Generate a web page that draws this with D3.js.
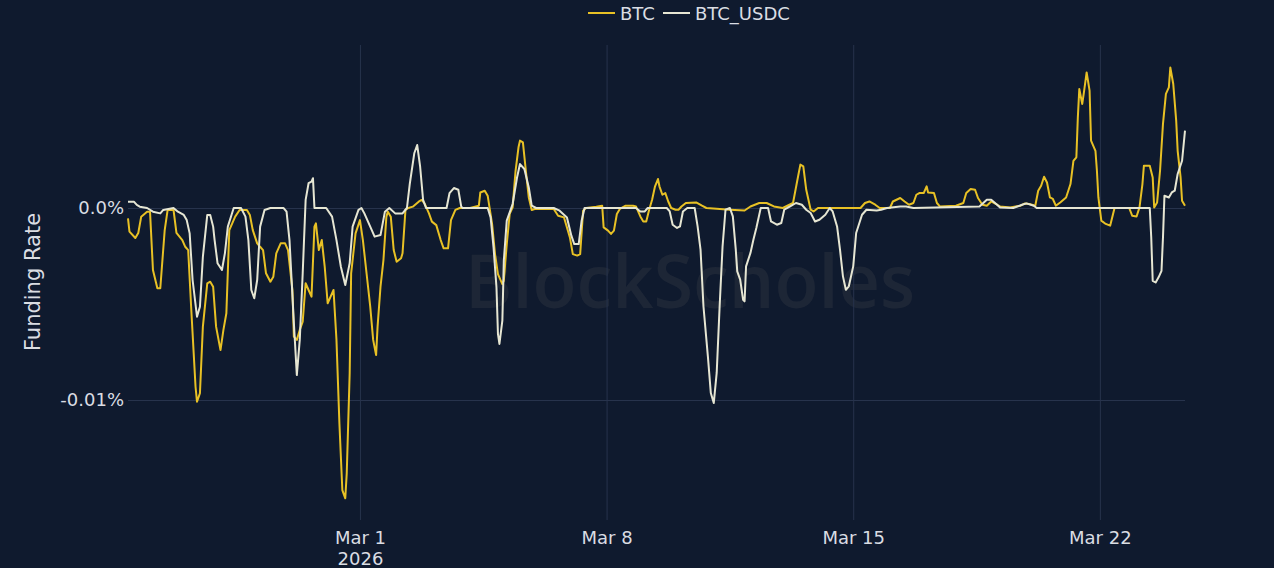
<!DOCTYPE html>
<html><head><meta charset="utf-8">
<script src="https://cdn.jsdelivr.net/npm/d3@7"></script>
<style>html,body{margin:0;padding:0;background:#0f1a2e;overflow:hidden}svg{display:block}</style>
</head><body><svg id="c" width="1274" height="568"></svg>
<script>
// ---- data (hours are offsets from 2026-03-01 00:00 UTC; values are funding rate in %) ----
const seriesNames = ["BTC", "BTC_USDC"];
const seriesColors = ["#e8c125", "#e6e6d3"];

const btcHours = [-158,-157,-153,-151,-149,-145,-143,-141,-138,-136,-133,-131,-127,-125,-121,-119,-117,-115,-112,-111,-109,-107,-104,-102,-100,-98,-95,-93,-91,-89,-85,-82,-77,-75,-73,-70,-68,-66,-64,-61,-59,-57,-54,-51,-49,-46,-45,-43,-41,-39,-37,-35,-33,-31,-30,-28,-26,-24,-22,-20,-18,-16,-14,-12,-10,-9,-7,-6,-3,0,2,5,7,9,11,12,14,16,18,19,21,23,25,28,29,31,33,36,40,42,44,47,49,52,55,57,60,62,65,68,75,81,82,85,87,90,92,94,97,98,100,102,104,106,108,109,111,113,115,117,119,127,132,135,139,143,145,148,150,152,154,161,165,166,169,171,173,175,177,181,186,188,191,193,195,197,199,201,203,204,206,208,210,212,215,217,219,222,229,233,236,252,262,266,272,277,282,288,295,298,300,302,304,307,309,312,341,344,347,351,354,361,363,368,371,374,377,379,381,384,386,387,391,393,395,406,411,413,416,419,421,424,427,430,434,436,443,450,453,456,460,462,464,466,468,470,472,474,477,481,484,486,488,489,490,492,493,495,497,498,501,502,503,505,508,511,513,514,524,526,529,531,533,534,538,540,541,543,545,547,549,551,552,554,556,557,559,560,562];
const btcValues = [-0.00054,-0.00123,-0.00156,-0.00130,-0.00045,-0.00019,-0.00019,-0.00323,-0.00418,-0.00418,-0.00115,-0.00010,-0.00010,-0.00130,-0.00167,-0.00202,-0.00219,-0.00514,-0.00931,-0.01009,-0.00965,-0.00618,-0.00392,-0.00384,-0.00410,-0.00618,-0.00740,-0.00635,-0.00548,-0.00115,-0.00045,-0.00010,-0.00010,-0.00036,-0.00115,-0.00184,-0.00202,-0.00219,-0.00340,-0.00384,-0.00358,-0.00236,-0.00184,-0.00184,-0.00219,-0.00427,-0.00670,-0.00687,-0.00635,-0.00592,-0.00392,-0.00427,-0.00462,-0.00097,-0.00080,-0.00219,-0.00167,-0.00306,-0.00496,-0.00462,-0.00427,-0.00687,-0.01121,-0.01469,-0.01512,-0.01382,-0.00861,-0.00340,-0.00132,-0.00063,-0.00167,-0.00375,-0.00514,-0.00687,-0.00766,-0.00618,-0.00410,-0.00271,-0.00045,-0.00019,-0.00045,-0.00219,-0.00280,-0.00262,-0.00236,-0.00010,0,0.00007,0.00033,0.00042,0.00024,-0.00028,-0.00071,-0.00089,-0.00167,-0.00210,-0.00210,-0.00063,-0.00010,0,0,0.00012,0.00081,0.00090,0.00064,-0.00083,-0.00240,-0.00344,-0.00396,-0.00379,-0.00188,-0.00031,0.00003,0.00194,0.00316,0.00351,0.00342,0.00194,0.00055,-0.00010,-0.00005,-0.00005,-0.00005,-0.00040,-0.00049,-0.00153,-0.00240,-0.00248,-0.00240,-0.00014,0,0.00007,0.00012,-0.00101,-0.00118,-0.00135,-0.00118,-0.00031,-0.00005,0.00012,0.00012,0.00008,-0.00044,-0.00070,-0.00070,-0.00009,0.00043,0.00113,0.00151,0.00113,0.00069,0.00078,0.00034,0,-0.00009,-0.00009,0.00008,0.00026,0.00029,0.00012,0,-0.00009,-0.00013,0.00008,0.00026,0.00026,0.00008,0,0.00026,0.00147,0.00226,0.00217,0.00095,-0.00009,-0.00018,0,0,0.00026,0.00034,0.00017,0,0,0.00034,0.00052,0.00034,0.00017,0.00026,0.00069,0.00078,0.00078,0.00113,0.00081,0.00078,0.00026,0.00008,0.00012,0.00026,0.00078,0.00099,0.00095,0.00052,0.00017,0.00012,0.00034,0.00017,0.00008,0.00003,0.00012,0.00024,0.00021,0.00012,0.00090,0.00116,0.00163,0.00133,0.00055,0.00047,0.00012,0.00029,0.00055,0.00125,0.00246,0.00264,0.00472,0.00620,0.00542,0.00594,0.00706,0.00611,0.00351,0.00298,0.00194,0.00055,-0.00066,-0.00083,-0.00092,-0.00031,0,0,-0.00040,-0.00044,0.00003,0.00125,0.00220,0.00220,0.00159,0.00003,0.00029,0.00194,0.00438,0.00594,0.00628,0.00732,0.00646,0.00455,0.00298,0.00159,0.00038,0.00012];

const usdcHours = [-158,-154,-152,-150,-145,-141,-136,-134,-127,-124,-120,-118,-116,-114,-111,-109,-107,-104,-102,-100,-99,-97,-94,-92,-90,-86,-81,-78,-76,-74,-72,-70,-68,-65,-61,-52,-50,-48,-45,-43,-41,-39,-37,-35,-33,-32,-31,-23,-19,-16,-13,-10,-7,-5,-1,1,3,7,10,14,17,20,24,29,32,34,37,39,41,43,45,59,61,64,67,69,70,87,89,91,93,94,95,97,98,100,102,104,107,109,112,115,117,120,132,136,141,144,146,149,151,153,188,191,194,196,209,211,213,216,218,220,223,228,230,232,234,237,239,241,243,245,247,249,252,254,256,257,259,261,262,263,266,268,270,273,278,280,284,287,289,293,297,301,304,307,310,313,317,320,322,325,327,329,331,333,336,338,342,345,352,355,359,368,372,377,422,427,430,434,436,445,451,454,459,461,538,539,540,542,544,546,547,548,551,553,555,557,560,562];
const usdcValues = [0.00033,0.00033,0.00016,0.00007,0,-0.00019,-0.00028,-0.00010,0,-0.00019,-0.00036,-0.00063,-0.00132,-0.00375,-0.00566,-0.00514,-0.00254,-0.00036,-0.00036,-0.00097,-0.00167,-0.00288,-0.00323,-0.00236,-0.00097,0,0,-0.00045,-0.00167,-0.00427,-0.00470,-0.00375,-0.00097,-0.00010,0,0,-0.00019,-0.00167,-0.00600,-0.00870,-0.00687,-0.00340,0.00042,0.00129,0.00137,0.00155,0,0,-0.00045,-0.00167,-0.00306,-0.00401,-0.00288,-0.00097,-0.00010,0,-0.00028,-0.00097,-0.00149,-0.00141,-0.00019,0,-0.00028,-0.00028,0,0.00129,0.00285,0.00328,0.00215,0.00042,0,0,0.00077,0.00104,0.00095,0.00007,0,0,-0.00049,-0.00205,-0.00414,-0.00656,-0.00708,-0.00587,-0.00274,-0.00066,-0.00023,0.00021,0.00159,0.00229,0.00203,0.00107,0.00012,0,0,-0.00014,-0.00049,-0.00144,-0.00188,-0.00188,-0.00066,0,0,-0.00018,-0.00018,0,0,-0.00018,-0.00087,-0.00104,-0.00096,-0.00018,0,0,-0.00096,-0.00217,-0.00513,-0.00773,-0.00964,-0.01016,-0.00859,-0.00513,-0.00200,-0.00009,0,-0.00044,-0.00217,-0.00330,-0.00373,-0.00478,-0.00486,-0.00304,-0.00234,-0.00165,-0.00104,0,0,-0.00070,-0.00087,-0.00078,-0.00009,0.00008,0.00026,0.00017,-0.00009,-0.00026,-0.00070,-0.00061,-0.00035,0,-0.00018,-0.00096,-0.00217,-0.00356,-0.00426,-0.00408,-0.00304,-0.00130,-0.00035,-0.00009,-0.00013,-0.00009,0,0.00008,0.00008,0,0.00008,0.00043,0.00043,0.00017,0.00003,0,0.00017,0.00024,0.00012,0,0,-0.00153,-0.00379,-0.00388,-0.00361,-0.00327,-0.00153,0.00064,0.00055,0.00081,0.00090,0.00177,0.00246,0.00403];

const xTickDays = [0, 7, 14, 21];
const xTickLabels = [["Mar 1", "2026"], ["Mar 8"], ["Mar 15"], ["Mar 22"]];
const yTickValues = [0, -0.01];
const yTickLabels = ["0.0%", "-0.01%"];
const yAxisTitle = "Funding Rate";
const watermark = "BlockScholes";

// ---- chart ----
const W = 1274, H = 568;
const plot = {left: 128, right: 1185, top: 45, bottom: 520};
const base = new Date(Date.UTC(2026, 2, 1));
const toDate = h => d3.utcHour.offset(base, h);

const svg = d3.select("#c");
svg.append("rect").attr("width", W).attr("height", H).attr("fill", "#0f1a2e");

const x = d3.scaleUtc().domain([toDate(-158), toDate(562)]).range([plot.left, plot.right]);
const y = d3.scaleLinear().domain([-0.01625, 0.00849]).range([plot.bottom, plot.top]);

const gridColor = "#27334c";
const textColor = "#dadde3";
const font = "DejaVu Sans";

// watermark
svg.append("text").attr("x", 690).attr("y", 308).attr("text-anchor", "middle")
  .attr("font-family", "Open Sans").attr("font-size", 74).attr("font-weight", 600)
  .attr("textLength", 450).attr("lengthAdjust", "spacingAndGlyphs")
  .attr("fill", "#b0a890").attr("fill-opacity", 0.09).text(watermark);

// x axis (vertical grid)
const xTicks = xTickDays.map(d => d3.utcDay.offset(base, d));
const gx = svg.append("g").attr("transform", `translate(0,${plot.bottom})`)
  .call(d3.axisBottom(x).tickValues(xTicks).tickSize(-(plot.bottom - plot.top)).tickFormat(""));
gx.select(".domain").remove();
gx.selectAll(".tick line").attr("stroke", gridColor).attr("stroke-width", 1);
gx.selectAll(".tick text").remove();
gx.selectAll(".tick").each(function(d, i) {
  const t = d3.select(this).append("text").attr("fill", textColor).attr("font-family", font)
    .attr("font-size", 18).attr("text-anchor", "middle");
  xTickLabels[i].forEach((s, j) => t.append("tspan").attr("x", 0).attr("y", 24 + j * 21).text(s));
});

// y axis (horizontal grid)
const gy = svg.append("g").attr("transform", `translate(${plot.left},0)`)
  .call(d3.axisLeft(y).tickValues(yTickValues).tickSize(-(plot.right - plot.left)).tickPadding(4)
    .tickFormat((d, i) => yTickLabels[i]));
gy.select(".domain").remove();
gy.selectAll(".tick line").attr("stroke", gridColor).attr("stroke-width", 1);
gy.selectAll(".tick text").attr("fill", textColor).attr("font-family", font).attr("font-size", 18);

svg.append("text").attr("transform", `translate(40,282) rotate(-90)`)
  .attr("text-anchor", "middle").attr("fill", textColor).attr("font-family", font)
  .attr("font-size", 21).text(yAxisTitle);

// lines
const series = [
  {name: seriesNames[0], color: seriesColors[0], pts: btcHours.map((h, i) => [toDate(h), btcValues[i]])},
  {name: seriesNames[1], color: seriesColors[1], pts: usdcHours.map((h, i) => [toDate(h), usdcValues[i]])}
];
const line = d3.line().x(d => x(d[0])).y(d => y(d[1])).curve(d3.curveLinear);
svg.append("g").selectAll("path").data(series).join("path")
  .attr("d", d => line(d.pts)).attr("fill", "none").attr("stroke", d => d.color)
  .attr("stroke-width", 2).attr("stroke-linejoin", "round");

// legend
const legendX = [588, 663];
const lg = svg.append("g").selectAll("g").data(series).join("g")
  .attr("transform", (d, i) => `translate(${legendX[i]},13)`);
lg.append("line").attr("x1", 0).attr("x2", 27).attr("stroke", d => d.color).attr("stroke-width", 2);
lg.append("text").attr("x", 32).attr("y", 6.5).attr("fill", textColor).attr("font-family", font)
  .attr("font-size", 18).text(d => d.name);
</script></body></html>
